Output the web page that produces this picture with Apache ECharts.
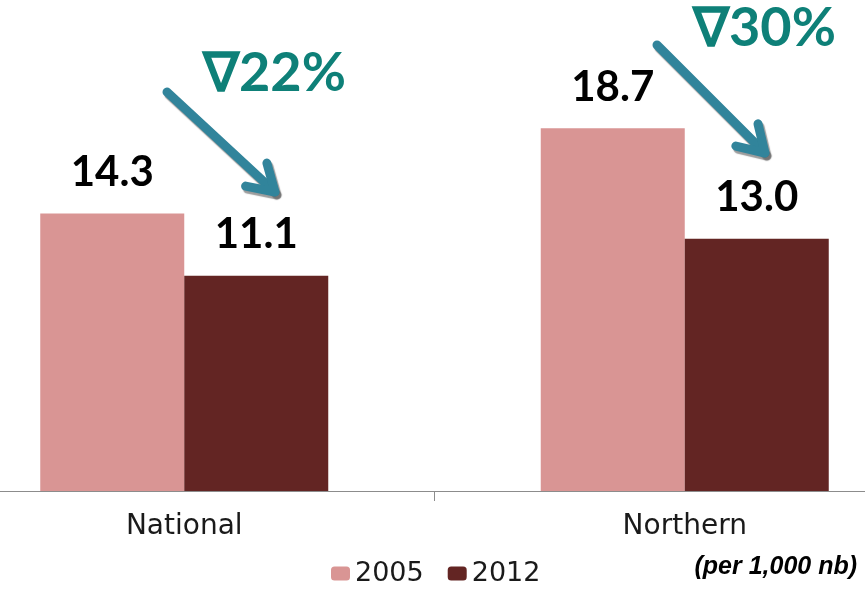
<!DOCTYPE html>
<html><head><meta charset="utf-8">
<script src="https://cdn.jsdelivr.net/npm/echarts@6/dist/echarts.min.js"></script>
<style>html,body{margin:0;padding:0;background:#fff;overflow:hidden;width:865px;height:591px}#c{position:absolute;left:-66px;top:0;width:1001px;height:591px}</style>
</head><body><div id="c"></div>
<script>
const categories = ['National', 'Northern'];
const values2005 = [14.3, 18.7];
const values2012 = [11.1, 13.0];
const changeLabels = ['\u220722%', '\u220730%'];
const unitNote = '(per 1,000 nb)';

const OX = 66; // div offset relative to the page
const chart = echarts.init(document.getElementById('c'));
const lbl = {show: true, position: 'top', distance: 20, color: '#000', fontFamily: 'Lato, "Open Sans", sans-serif', fontWeight: 'bold', fontSize: 42, formatter: p => p.value.toFixed(1)};
const arrowColor = '#31849b';
function arrow(x1, y1, x2, y2) {
  x1 += OX; x2 += OX;
  const ang = Math.atan2(y2 - y1, x2 - x1);
  const h = 30, a = 0.55;
  const p1 = [x2 - h * Math.cos(ang - a), y2 - h * Math.sin(ang - a)];
  const p2 = [x2 - h * Math.cos(ang + a), y2 - h * Math.sin(ang + a)];
  const style = {stroke: arrowColor, lineWidth: 9, lineCap: 'round', lineJoin: 'round', fill: null, shadowColor: 'rgba(90,90,90,0.6)', shadowOffsetX: 2, shadowOffsetY: 3, shadowBlur: 1};
  return [
    {type: 'polyline', shape: {points: [[x1, y1], [x2, y2]]}, style},
    {type: 'polyline', shape: {points: [p1, [x2, y2], p2]}, style}
  ];
}
const option = {
  animation: false,
  backgroundColor: '#fff',
  grid: {left: 0, right: 0, top: 6, bottom: 100},
  xAxis: {type: 'category', data: categories,
    axisLine: {lineStyle: {color: '#8c8c8c', width: 1}},
    axisTick: {show: true, alignWithLabel: false, length: 10, lineStyle: {color: '#8c8c8c'}},
    axisLabel: {color: '#1a1a1a', fontSize: 28, fontFamily: '"DejaVu Sans", sans-serif', margin: 22}},
  yAxis: {type: 'value', min: 0, max: 25, show: false, splitLine: {show: false}},
  legend: {data: ['2005', '2012'], left: 326 + OX, top: 555, itemWidth: 19, itemHeight: 14, itemGap: 24,
    textStyle: {fontSize: 27, color: '#1a1a1a', fontFamily: '"DejaVu Sans", sans-serif'}},
  series: [
    {name: '2005', type: 'bar', data: values2005, barWidth: 144, barGap: '0%', itemStyle: {color: '#d99594'}, label: lbl},
    {name: '2012', type: 'bar', data: values2012, barWidth: 144, itemStyle: {color: '#632523'}, label: lbl}
  ],
  graphic: [
    ...arrow(167, 92, 275, 192),
    ...arrow(657, 45, 765, 153),
    {type: 'text', left: 203 + OX, top: 47, style: {text: changeLabels[0], fill: '#0e8078', font: 'bold 54px Lato, "Open Sans", sans-serif'}},
    {type: 'text', left: 693 + OX, top: 2, style: {text: changeLabels[1], fill: '#0e8078', font: 'bold 54px Lato, "Open Sans", sans-serif'}},
    {type: 'text', right: 8 + 70, top: 555, style: {text: unitNote, fill: '#000', font: 'italic bold 25px "Liberation Sans Narrow", "Liberation Sans", sans-serif'}}
  ]
};
chart.setOption(option);
</script></body></html>
